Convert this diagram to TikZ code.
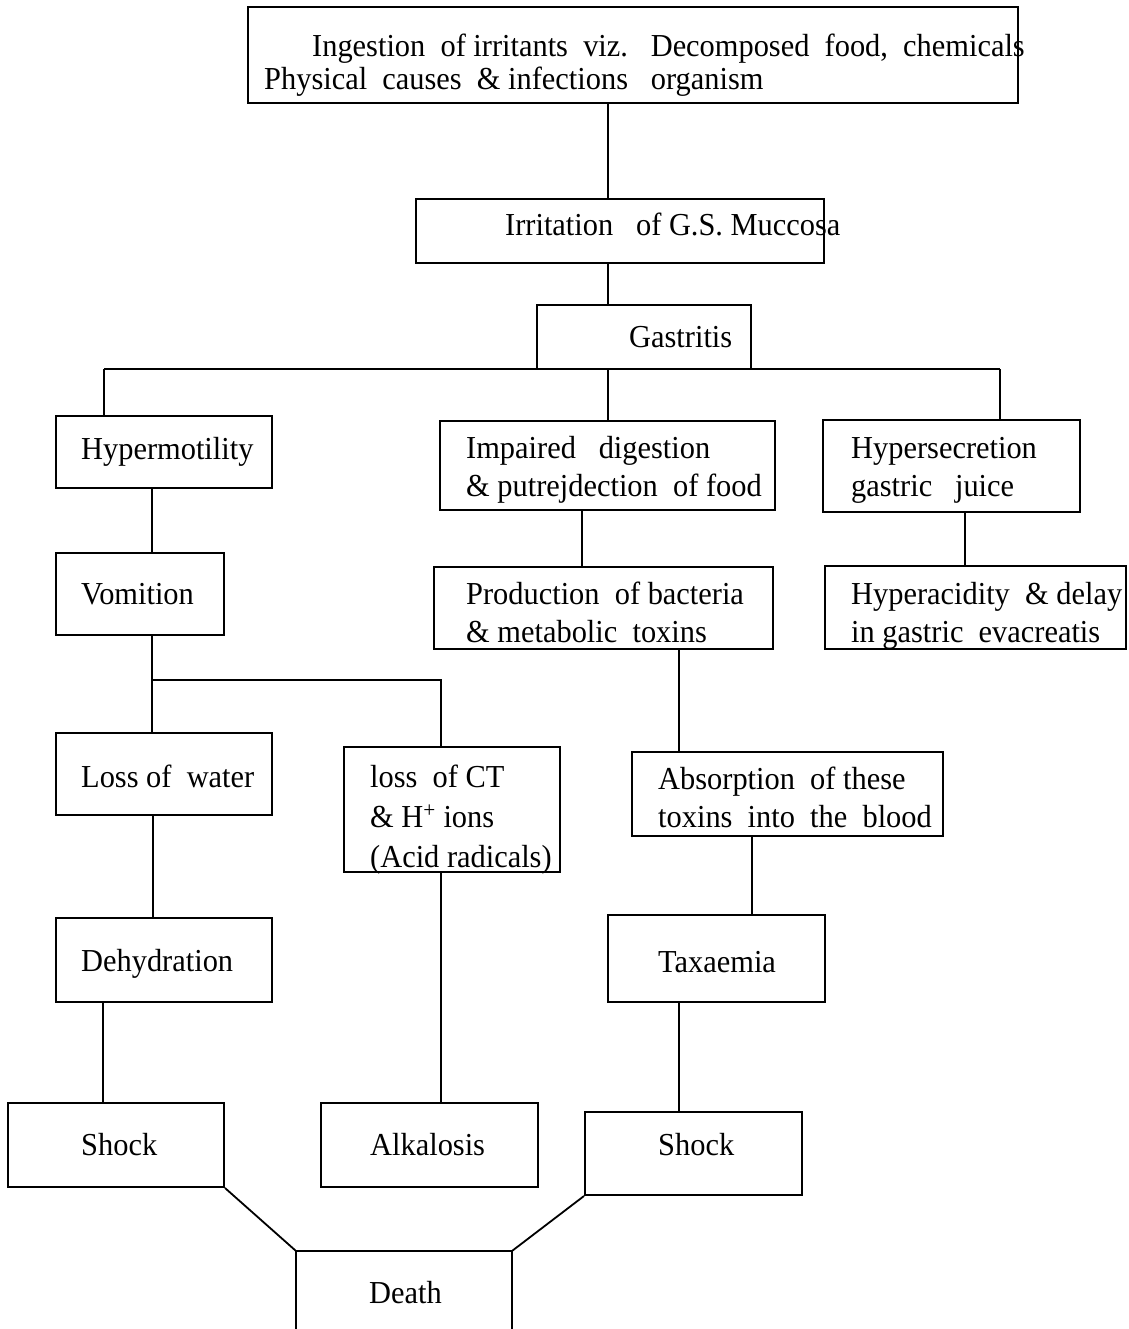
\documentclass[tikz,border=0pt]{standalone}
\usepackage{fontspec}
\setmainfont{Liberation Serif}[FakeStretch=0.95]
\usetikzlibrary{calc}

\tikzset{
  box/.style={draw, line width=2pt, rectangle, inner sep=0pt},
  lbl/.style={anchor=base west, inner sep=0pt, align=left,
              font=\fontsize{32}{38}\selectfont},
  link/.style={line width=1.8pt}
}
% box from its corners (x1,y1,x2,y2), y grows downward
\newcommand{\mkbox}[5]{%
  \node[box, minimum width={#4-#2}, minimum height={#5-#3}]
    (#1) at ({(#2+#4)/2},{(#3+#5)/2}) {};}

\begin{document}
\begin{tikzpicture}[x=1pt,y=-1pt]
  \fill[white] (0,0) rectangle (1128,1329);
  \path[use as bounding box] (0,0) rectangle (1128,1329);

  % boxes
  \mkbox{top}{248}{7}{1018}{103}
  \mkbox{irr}{416}{199}{824}{263}
  \mkbox{gas}{537}{305}{751}{369}
  \mkbox{hypm}{56}{416}{272}{488}
  \mkbox{imp}{440}{421}{775}{510}
  \mkbox{hsec}{823}{420}{1080}{512}
  \mkbox{vom}{56}{553}{224}{635}
  \mkbox{prod}{434}{567}{773}{649}
  \mkbox{hacid}{825}{566}{1126}{649}
  \mkbox{water}{56}{733}{272}{815}
  \mkbox{ct}{344}{747}{560}{872}
  \mkbox{abs}{632}{752}{943}{836}
  \mkbox{dehyd}{56}{918}{272}{1002}
  \mkbox{tax}{608}{915}{825}{1002}
  \mkbox{shockL}{8}{1103}{224}{1187}
  \mkbox{alk}{321}{1103}{538}{1187}
  \mkbox{shockR}{585}{1112}{802}{1195}
  % open-bottomed box running off the page
  \node[inner sep=0pt, minimum width=216pt, minimum height=84pt]
    (death) at (404,1293) {};
  \draw[line width=2pt] (death.south west) -- (death.north west)
    -- (death.north east) -- (death.south east);

  % texts (multi-line labels are placed by the baseline of their last line)
  \node[lbl] (tTop) at (312,57) {Ingestion\ \ of irritants\ \ viz.\ \ \ Decomposed\ \ food,\ \ chemicals};
  \node[lbl] (tTop2) at (264,90) {Physical\ \ causes\ \ \& infections\ \ \ organism};
  \node[lbl] (tIrr) at (505,236) {Irritation\ \ \ of G.S.\ Muccosa};
  \node[lbl] (tGas) at (629,347) {Gastritis};
  \node[lbl] (tHypm) at (81,459) {Hypermotility};
  \node[lbl] (tImp) at (466,496) {Impaired\ \ \ digestion\\\& putrejdection\ \ of food};
  \node[lbl] (tHsec) at (851,496) {Hypersecretion\\gastric\ \ \ juice};
  \node[lbl] (tVom) at (81,604) {Vomition};
  \node[lbl] (tProd) at (466,642) {Production\ \ of bacteria\\\& metabolic\ \ toxins};
  \node[lbl] (tHacid) at (851,642) {Hyperacidity\ \ \& delay\\in gastric\ \ evacreatis};
  \node[lbl] (tWater) at (81,787) {Loss of\ \ water};
  \node[lbl, font=\fontsize{32}{40}\selectfont] (tCt) at (370,867)
    {loss\ \ of CT\\\& H\textsuperscript{+} ions\\(Acid radicals)};
  \node[lbl] (tAbs) at (658,827) {Absorption\ \ of these\\toxins\ \ into\ \ the\ \ blood};
  \node[lbl] (tDehyd) at (81,971) {Dehydration};
  \node[lbl] (tTax) at (658,972) {Taxaemia};
  \node[lbl] (tShockL) at (81,1155) {Shock};
  \node[lbl] (tAlk) at (370,1155) {Alkalosis};
  \node[lbl] (tShockR) at (658,1155) {Shock};
  \node[lbl] (tDeath) at (369,1303) {Death};

  % connector positions
  \coordinate (busL) at (104,369);
  \coordinate (busM) at (608,369);
  \coordinate (busR) at (1000,369);
  \coordinate (vbr) at (152,680);
  \coordinate (cbr) at (441,680);

  % connectors
  \draw[link] (top.south -| busM) -- (irr.north -| busM);
  \draw[link] (irr.south -| busM) -- (gas.north -| busM);
  \draw[link] (busL) -- (busR);
  \draw[link] (busL) -- (hypm.north -| busL);
  \draw[link] (busM) -- (imp.north -| busM);
  \draw[link] (busR) -- (hsec.north -| busR);
  \draw[link] (hypm.south -| vbr) -- (vom.north -| vbr);
  \draw[link] ([xshift=143pt]imp.south west) -- ([xshift=149pt]prod.north west);
  \draw[link] ([xshift=143pt]hsec.south west) -- ([xshift=141pt]hacid.north west);
  \draw[link] (vom.south -| vbr) -- (water.north -| vbr);
  \draw[link] (vbr) -- (cbr) -- (ct.north -| cbr);
  \draw[link] ([xshift=246pt]prod.south west) -- ([xshift=48pt]abs.north west);
  \draw[link] ([xshift=98pt]water.south west) -- ([xshift=98pt]dehyd.north west);
  \draw[link] (ct.south -| cbr) -- (alk.north -| cbr);
  \draw[link] ([xshift=121pt]abs.south west) -- ([xshift=145pt]tax.north west);
  \draw[link] ([xshift=48pt]dehyd.south west) -- ([xshift=96pt]shockL.north west);
  \draw[link] ([xshift=72pt]tax.south west) -- ([xshift=95pt]shockR.north west);
  \draw[link] (shockL.south east) -- (death.north west);
  \draw[link] (shockR.south west) -- (death.north east);
\end{tikzpicture}
\end{document}
